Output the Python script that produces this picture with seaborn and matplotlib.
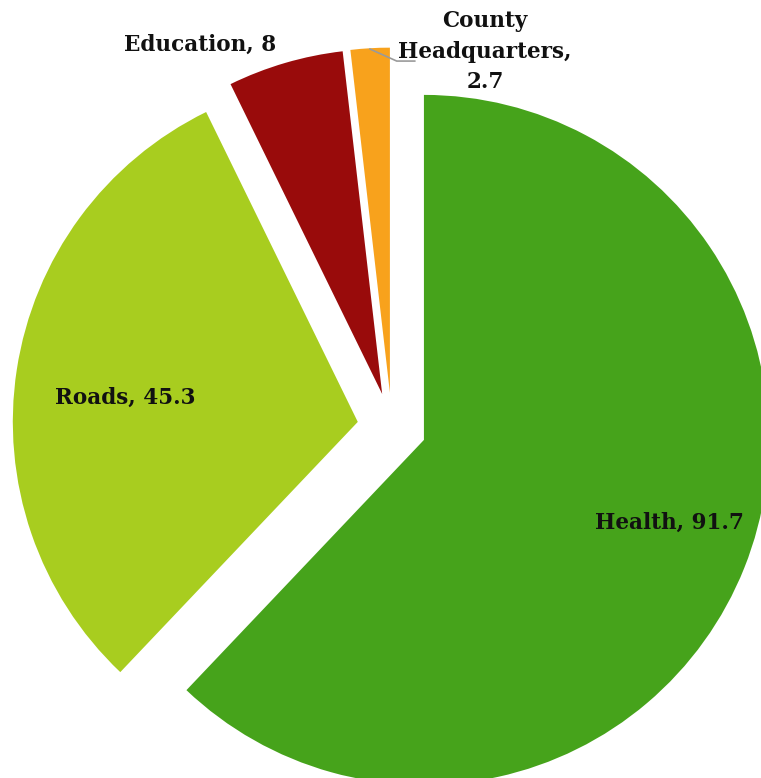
import matplotlib
matplotlib.use("Agg")
import matplotlib.pyplot as plt
import seaborn as sns

sns.set_theme(style="white")
plt.rcParams["font.family"] = ["DejaVu Serif"]

# Spending by sector
categories = ["Health", "Roads", "Education", "County\nHeadquarters"]
values = [91.7, 45.3, 8, 2.7]
value_labels = ["91.7", "45.3", "8", "2.7"]
colors = ["#46a31b", "#a8cd1f", "#990b0b", "#f8a21c"]

fig = plt.figure(figsize=(7.61, 7.78), dpi=100)
ax = fig.add_axes([0, 0, 1, 1])

wedges, _ = ax.pie(
    values,
    colors=colors,
    startangle=90,
    counterclock=False,
    explode=[0.1] * len(values),
    radius=1.0,
    wedgeprops=dict(linewidth=0),
)

ax.set_xlim(-1.136, 1.070)
ax.set_ylim(-1.017, 1.238)
ax.set_aspect("auto")
ax.axis("off")

label_style = dict(fontsize=15.5, fontweight="bold", color="#111111",
                   ha="center", va="center")

# Label placement for each wedge
label_pos = {
    "Health": (0.806, -0.278),
    "Roads": (-0.774, 0.084),
    "Education": (-0.557, 1.107),
}
for name, val in zip(categories[:3], value_labels[:3]):
    x, y = label_pos[name]
    ax.text(x, y, f"{name}, {val}", **label_style)

# Small slice label with a leader line
ax.plot([-0.064, 0.014, 0.067], [1.096, 1.061, 1.061],
        color="#9a9a9a", lw=1.2, solid_capstyle="round")
ax.text(0.270, 1.088, f"{categories[3]},\n{value_labels[3]}",
        linespacing=1.5, **label_style)

fig.savefig("out.png", dpi=100, facecolor="white")
